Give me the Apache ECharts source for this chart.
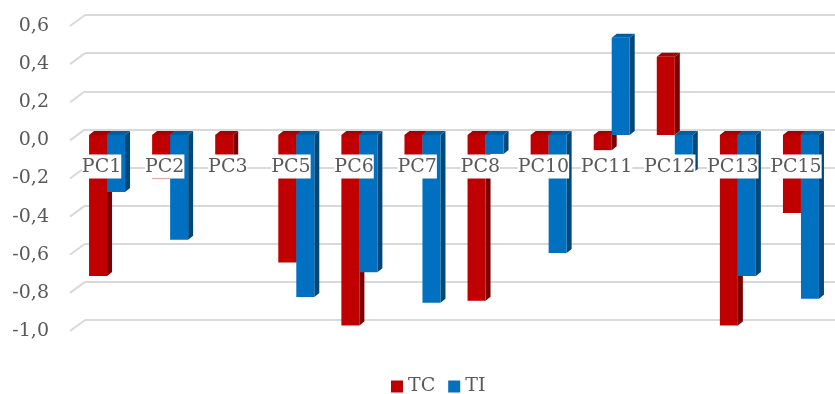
<!DOCTYPE html>
<html>
<head>
<meta charset="utf-8">
<script src="https://cdn.jsdelivr.net/npm/echarts@6/dist/echarts.min.js"></script>
<style>
  html, body { margin: 0; padding: 0; background: #fff; }
  #chart { width: 835px; height: 394px; }
</style>
</head>
<body>
<div id="chart"></div>
<script>
const categories = ["PC1", "PC2", "PC3", "PC5", "PC6", "PC7", "PC8", "PC10", "PC11", "PC12", "PC13", "PC15"];
const tcValues = [-0.74, -0.23, -0.15, -0.67, -1.0, -0.15, -0.87, -0.15, -0.08, 0.41, -1.0, -0.41];
const tiValues = [-0.3, -0.55, null, -0.85, -0.72, -0.88, -0.1, -0.62, 0.51, -0.2, -0.74, -0.86];
const yTicks = [-1, -0.8, -0.6, -0.4, -0.2, 0, 0.2, 0.4, 0.6];

const FONT = "DejaVu Serif";
const TXT = "#595959";
const Y_MIN = -1, Y_MAX = 0.6;
const H = 305;

// bar 3D : face avant + côté + dessus
function bar3d(offset, front, side, top) {
  return function (params, api) {
    const v = api.value(1);
    if (v == null || isNaN(v)) return;
    const idx = api.value(0);
    const p0 = api.coord([idx, 0]);
    const p1 = api.coord([idx, v]);
    const w = 18, dx = 5, dy = 4;
    const xl = p0[0] + offset;
    const xr = xl + w;
    const yt = Math.min(p0[1], p1[1]);
    const yb = Math.max(p0[1], p1[1]);
    return {
      type: "group",
      children: [
        { type: "polygon", shape: { points: [[xr, yt], [xr + dx, yt - dy], [xr + dx, yb - dy], [xr, yb]] }, style: { fill: side } },
        { type: "polygon", shape: { points: [[xl, yt], [xl + dx, yt - dy], [xr + dx, yt - dy], [xr, yt]] }, style: { fill: top } },
        { type: "rect", shape: { x: xl, y: yt, width: w, height: yb - yt }, style: { fill: front } }
      ]
    };
  };
}

// petit biais à gauche du quadrillage (plancher 3D)
function gridStub(params, api) {
  const p = api.coord([0, api.value(0)]);
  const x0 = p[0] - api.size([1, 0])[0] / 2;
  return {
    type: "line",
    shape: { x1: x0, y1: p[1], x2: x0 - 15, y2: p[1] + 11 },
    style: { stroke: "#d9d9d9", lineWidth: 2 }
  };
}

const hiddenAxis = { show: false };

const chart = echarts.init(document.getElementById("chart"));
chart.setOption({
  animation: false,
  grid: [
    { left: 75.5, right: 2.5, top: 20.5, height: H },   // barres
    { left: 85, right: 0, top: 15, height: H },         // paroi du fond
    { left: 70, right: 7.5, top: 26, height: H }        // plan avant (étiquettes)
  ],
  legend: {
    bottom: -7,
    left: 386,
    icon: "rect",
    itemWidth: 12,
    itemHeight: 12,
    itemGap: 13,
    textStyle: { fontFamily: FONT, fontSize: 19, color: TXT },
    data: [
      { name: "TC", itemStyle: { color: "#C00000" } },
      { name: "TI", itemStyle: { color: "#0070C0" } }
    ]
  },
  xAxis: [
    Object.assign({ type: "category", data: categories, gridIndex: 0 }, hiddenAxis),
    Object.assign({ type: "category", data: categories, gridIndex: 1 }, hiddenAxis),
    {
      type: "category",
      data: categories,
      gridIndex: 2,
      z: 10,
      offset: -H * (0 - Y_MIN) / (Y_MAX - Y_MIN),
      axisLine: { show: false, onZero: false },
      axisTick: { show: false },
      axisLabel: {
        interval: 0,
        margin: 14,
        fontFamily: FONT,
        fontSize: 19,
        color: TXT,
        backgroundColor: "#fff",
        padding: [3, 0, 2, 0]
      }
    }
  ],
  yAxis: [
    { type: "value", gridIndex: 0, min: Y_MIN, max: Y_MAX, interval: 0.2, show: false },
    {
      type: "value", gridIndex: 1, min: Y_MIN, max: Y_MAX, interval: 0.2,
      axisLine: { show: false }, axisTick: { show: false }, axisLabel: { show: false },
      splitLine: { lineStyle: { color: "#d9d9d9", width: 2 } }
    },
    {
      type: "value", gridIndex: 2, min: Y_MIN, max: Y_MAX, interval: 0.2,
      axisLine: { show: false }, axisTick: { show: false }, splitLine: { show: false },
      axisLabel: {
        margin: 21,
        fontFamily: FONT,
        fontSize: 19,
        color: TXT,
        formatter: v => v.toFixed(1).replace(".", ",")
      }
    }
  ],
  series: [
    {
      type: "custom",
      xAxisIndex: 1,
      yAxisIndex: 1,
      silent: true,
      renderItem: gridStub,
      encode: { x: -1, y: 0 },
      data: yTicks.map(v => [v])
    },
    {
      name: "TC",
      type: "custom",
      itemStyle: { color: "#C00000" },
      renderItem: bar3d(-18, "#C00000", "#7a0000", "#a80000"),
      data: categories.map((c, i) => [i, tcValues[i]])
    },
    {
      name: "TI",
      type: "custom",
      itemStyle: { color: "#0070C0" },
      renderItem: bar3d(0, "#0070C0", "#00477a", "#005fa3"),
      data: categories.map((c, i) => [i, tiValues[i]])
    }
  ]
});
</script>
</body>
</html>
